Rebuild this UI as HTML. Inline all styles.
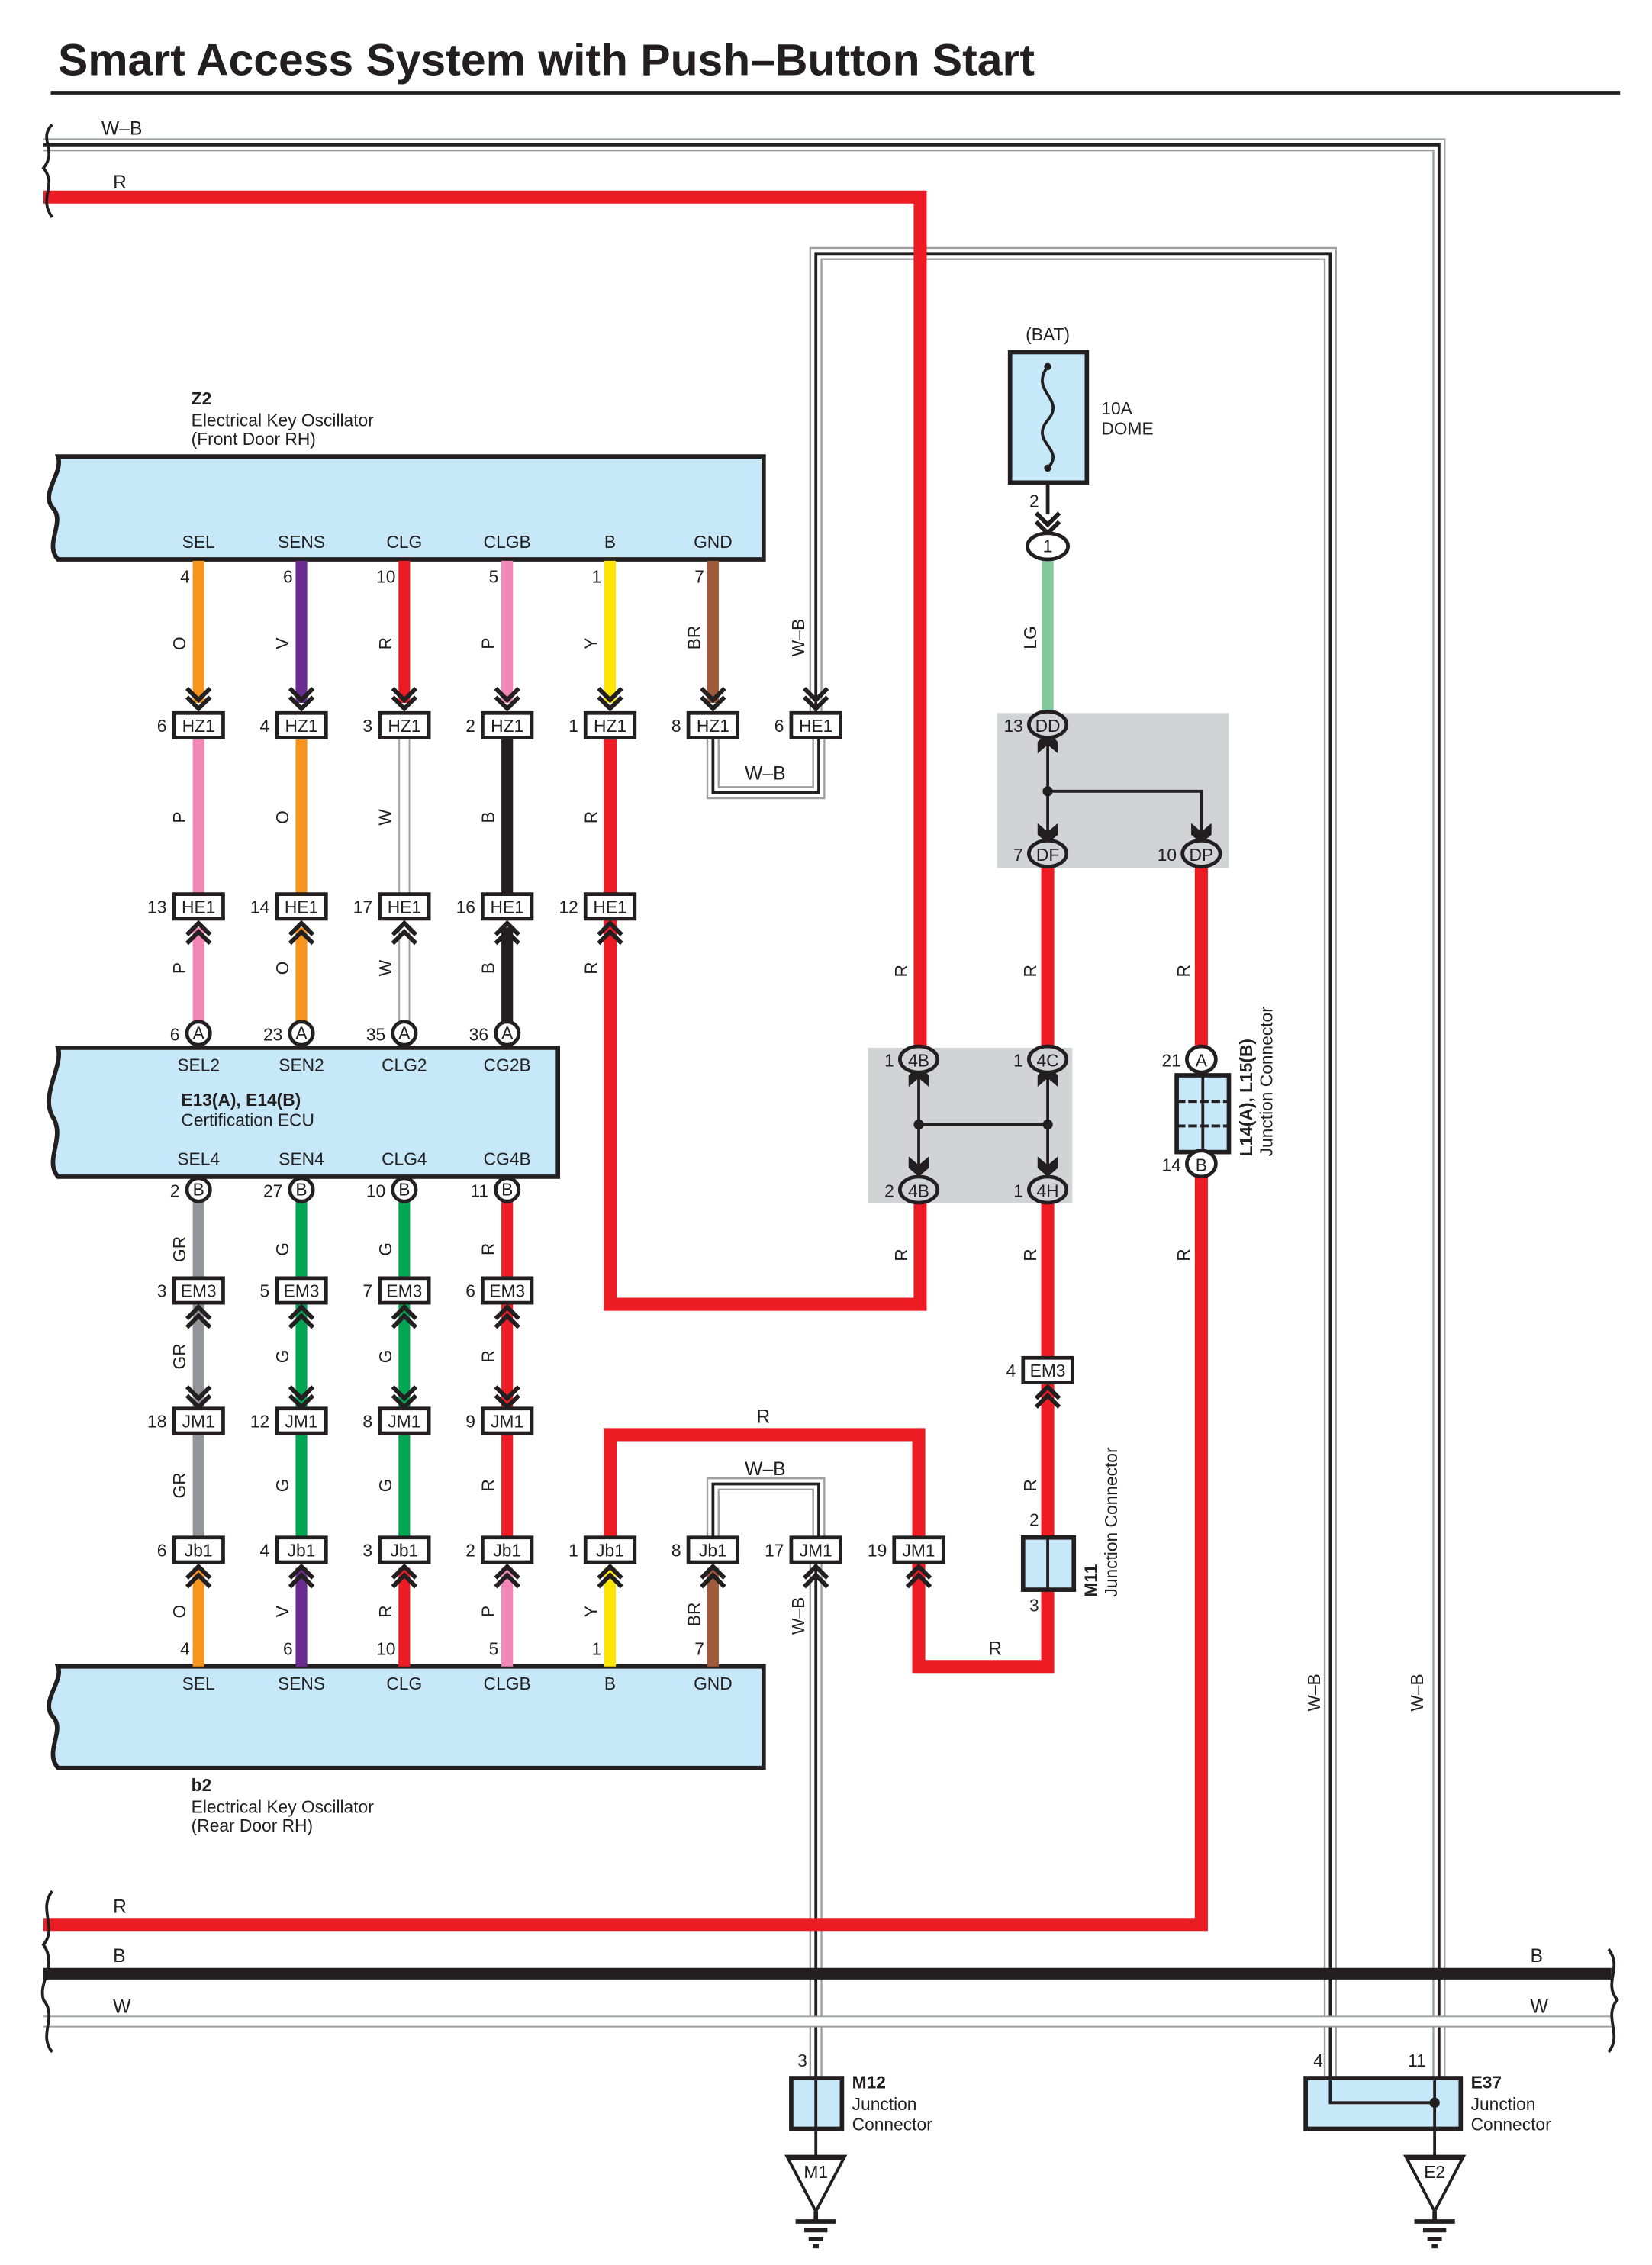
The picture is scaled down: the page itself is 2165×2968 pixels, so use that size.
<!DOCTYPE html>
<html><head><meta charset="utf-8"><style>
html,body{margin:0;padding:0;background:#fff}
svg{display:block}
text{font-family:"Liberation Sans",sans-serif;fill:#231f20}
.t{font-size:13px}
.c{font-size:12px;text-anchor:middle}
.n{font-size:12px;text-anchor:end}
.b{font-weight:bold}
.cb{fill:#fff;stroke:#231f20;stroke-width:2.5}
.ov{fill:#d1d3d4;stroke:#231f20;stroke-width:2.5}
.ch{fill:none;stroke:#231f20;stroke-width:3}
.blue{fill:#c7e8f8;stroke:#231f20;stroke-width:3}
</style></head><body>
<svg width="2165" height="2968" viewBox="0 0 1140 1563" preserveAspectRatio="none" xmlns="http://www.w3.org/2000/svg">
<!-- title -->
<text x="40" y="52" style="font-size:31px;font-weight:bold">Smart Access System with Push–Button Start</text>
<line x1="35" y1="64" x2="1118" y2="64" stroke="#231f20" stroke-width="2.5"/>

<!-- gray boxes -->
<rect x="688" y="492" width="160" height="107" fill="#d1d3d4"/>
<rect x="599" y="723" width="141" height="107" fill="#d1d3d4"/>

<!-- W-B outer loop -->
<g fill="none">
<path d="M30 100 H993 V1433" stroke="#9d9fa2" stroke-width="9"/>
<path d="M30 100 H993 V1433" stroke="#fff" stroke-width="6.5"/>
<path d="M30 100 H993 V1433" stroke="#231f20" stroke-width="2"/>
<path d="M563 492 V175 H918 V1433" stroke="#9d9fa2" stroke-width="9"/>
<path d="M563 492 V175 H918 V1433" stroke="#fff" stroke-width="6.5"/>
<path d="M563 492 V175 H918 V1433" stroke="#231f20" stroke-width="2"/>
<!-- HZ1 8 to HE1 6 loop -->
<path d="M492 509 V547 H565 V509" stroke="#9d9fa2" stroke-width="9"/>
<path d="M492 509 V547 H565 V509" stroke="#fff" stroke-width="6.5"/>
<path d="M492 509 V547 H565 V509" stroke="#231f20" stroke-width="2"/>
<!-- Jb1 8 to JM1 17 loop -->
<path d="M492 1061 V1024 H565 V1061" stroke="#9d9fa2" stroke-width="9"/>
<path d="M492 1061 V1024 H565 V1061" stroke="#fff" stroke-width="6.5"/>
<path d="M492 1061 V1024 H565 V1061" stroke="#231f20" stroke-width="2"/>
<path d="M563 1078 V1433" stroke="#9d9fa2" stroke-width="9"/>
<path d="M563 1078 V1433" stroke="#fff" stroke-width="6.5"/>
<path d="M563 1078 V1433" stroke="#231f20" stroke-width="2"/>
</g>
<text x="70" y="93" class="t">W–B</text>
<text x="514" y="538" class="t">W–B</text>
<text x="514" y="1018" class="t">W–B</text>

<!-- red wires -->
<g fill="none" stroke="#ed1c24" stroke-width="9">
<path d="M30 136 H635 V723"/>
<path d="M635 830 V900 H421 V634"/>
<path d="M421 509 V617"/>
<path d="M723 599 V723"/>
<path d="M723 830 V937"/>
<path d="M723 954 V1061"/>
<path d="M723 1097 V1150 H634 V1078"/>
<path d="M421 1061 V990 H634 V1061"/>
<path d="M829 599 V723"/>
<path d="M829 812 V1328 H30"/>
</g>
<text x="78" y="130" class="t">R</text>
<text x="78" y="1320" class="t">R</text>
<text x="522" y="982" class="t">R</text>
<text x="682" y="1142" class="t">R</text>

<!-- B and W bottom -->
<line x1="30" y1="1362" x2="1112" y2="1362" stroke="#231f20" stroke-width="8"/>
<line x1="30" y1="1395" x2="1112" y2="1395" stroke="#9d9fa2" stroke-width="8"/>
<line x1="30" y1="1395" x2="1112" y2="1395" stroke="#fff" stroke-width="6"/>
<text x="78" y="1354" class="t">B</text>
<text x="78" y="1389" class="t">W</text>
<text x="1056" y="1354" class="t">B</text>
<text x="1056" y="1389" class="t">W</text>

<!-- break marks -->
<g fill="none" stroke="#231f20" stroke-width="2">
<path d="M36 86 C26 96,40 104,30 116 C40 128,26 136,36 150"/>
<path d="M36 1305 C26 1318,40 1330,30 1342 C40 1356,26 1368,30 1380 C40 1392,26 1404,36 1416"/>
<path d="M1110 1345 C1120 1358,1106 1368,1116 1380 C1106 1392,1120 1404,1110 1416"/>
</g>

<!-- Z2 box -->
<path d="M40 315 H527 V386 H40 C30 375,46 360,36 350 C28 340,44 326,40 315 Z" class="blue"/>
<text x="132" y="279" class="t b" style="font-size:12px">Z2</text>
<text x="132" y="294" class="t" style="font-size:12px">Electrical Key Oscillator</text>
<text x="132" y="307" class="t" style="font-size:12px">(Front Door RH)</text>
<g class="c" style="font-size:13px">
<text x="137" y="378" class="c t">SEL</text><text x="208" y="378" class="c t">SENS</text><text x="279" y="378" class="c t">CLG</text><text x="350" y="378" class="c t">CLGB</text><text x="421" y="378" class="c t">B</text><text x="492" y="378" class="c t">GND</text>
</g>

<!-- b2 box -->
<path d="M40 1150 H527 V1220 H40 C30 1208,46 1194,36 1184 C28 1174,44 1160,40 1150 Z" class="blue"/>
<text x="132" y="1236" class="t b" style="font-size:12px">b2</text>
<text x="132" y="1251" class="t" style="font-size:12px">Electrical Key Oscillator</text>
<text x="132" y="1264" class="t" style="font-size:12px">(Rear Door RH)</text>
<text x="137" y="1166" class="c t">SEL</text><text x="208" y="1166" class="c t">SENS</text><text x="279" y="1166" class="c t">CLG</text><text x="350" y="1166" class="c t">CLGB</text><text x="421" y="1166" class="c t">B</text><text x="492" y="1166" class="c t">GND</text>

<!-- E13 box -->
<path d="M40 723 H385 V812 H40 C30 800,46 785,36 770 C28 755,44 735,40 723 Z" class="blue"/>
<text x="137" y="739" class="c t">SEL2</text><text x="208" y="739" class="c t">SEN2</text><text x="279" y="739" class="c t">CLG2</text><text x="350" y="739" class="c t">CG2B</text>
<text x="125" y="763" class="t b" style="font-size:12px">E13(A), E14(B)</text>
<text x="125" y="777" class="t" style="font-size:12px">Certification ECU</text>
<text x="137" y="804" class="c t">SEL4</text><text x="208" y="804" class="c t">SEN4</text><text x="279" y="804" class="c t">CLG4</text><text x="350" y="804" class="c t">CG4B</text>

<!-- column wires -->
<g fill="none" stroke-width="8">
<!-- top -->
<line x1="137" y1="387" x2="137" y2="485" stroke="#f7941d"/>
<line x1="208" y1="387" x2="208" y2="485" stroke="#6b2c91"/>
<line x1="279" y1="387" x2="279" y2="485" stroke="#ed1c24"/>
<line x1="350" y1="387" x2="350" y2="485" stroke="#f287b7"/>
<line x1="421" y1="387" x2="421" y2="485" stroke="#ffe600"/>
<line x1="492" y1="387" x2="492" y2="485" stroke="#9e5a3a"/>
<!-- middle -->
<line x1="137" y1="509" x2="137" y2="617" stroke="#f287b7"/>
<line x1="208" y1="509" x2="208" y2="617" stroke="#f7941d"/>
<line x1="279" y1="509" x2="279" y2="617" stroke="#9d9fa2"/>
<line x1="279" y1="509" x2="279" y2="617" stroke="#fff" stroke-width="6"/>
<line x1="350" y1="509" x2="350" y2="617" stroke="#231f20"/>
<!-- to E13 A -->
<line x1="137" y1="640" x2="137" y2="705" stroke="#f287b7"/>
<line x1="208" y1="640" x2="208" y2="705" stroke="#f7941d"/>
<line x1="279" y1="640" x2="279" y2="705" stroke="#9d9fa2"/>
<line x1="279" y1="640" x2="279" y2="705" stroke="#fff" stroke-width="6"/>
<line x1="350" y1="640" x2="350" y2="705" stroke="#231f20"/>
<!-- lower -->
<line x1="137" y1="829" x2="137" y2="1061" stroke="#939598"/>
<line x1="208" y1="829" x2="208" y2="1061" stroke="#00a651"/>
<line x1="279" y1="829" x2="279" y2="1061" stroke="#00a651"/>
<line x1="350" y1="829" x2="350" y2="1061" stroke="#ed1c24"/>
<!-- bottom -->
<line x1="137" y1="1082" x2="137" y2="1150" stroke="#f7941d"/>
<line x1="208" y1="1082" x2="208" y2="1150" stroke="#6b2c91"/>
<line x1="279" y1="1082" x2="279" y2="1150" stroke="#ed1c24"/>
<line x1="350" y1="1082" x2="350" y2="1150" stroke="#f287b7"/>
<line x1="421" y1="1082" x2="421" y2="1150" stroke="#ffe600"/>
<line x1="492" y1="1082" x2="492" y2="1150" stroke="#9e5a3a"/>
<!-- LG -->
<line x1="723" y1="386" x2="723" y2="492" stroke="#7fc99a"/>
</g>

<!-- wire color labels -->
<g class="t" style="font-size:12px">
<text transform="rotate(-90 128 444)" x="128" y="444" text-anchor="middle">O</text>
<text transform="rotate(-90 199 444)" x="199" y="444" text-anchor="middle">V</text>
<text transform="rotate(-90 270 444)" x="270" y="444" text-anchor="middle">R</text>
<text transform="rotate(-90 341 444)" x="341" y="444" text-anchor="middle">P</text>
<text transform="rotate(-90 412 444)" x="412" y="444" text-anchor="middle">Y</text>
<text transform="rotate(-90 483 440)" x="483" y="440" text-anchor="middle">BR</text>
<text transform="rotate(-90 555 440)" x="555" y="440" text-anchor="middle">W–B</text>
<text transform="rotate(-90 715 440)" x="715" y="440" text-anchor="middle">LG</text>
<text transform="rotate(-90 128 564)" x="128" y="564" text-anchor="middle">P</text>
<text transform="rotate(-90 199 564)" x="199" y="564" text-anchor="middle">O</text>
<text transform="rotate(-90 270 564)" x="270" y="564" text-anchor="middle">W</text>
<text transform="rotate(-90 341 564)" x="341" y="564" text-anchor="middle">B</text>
<text transform="rotate(-90 412 564)" x="412" y="564" text-anchor="middle">R</text>
<text transform="rotate(-90 128 668)" x="128" y="668" text-anchor="middle">P</text>
<text transform="rotate(-90 199 668)" x="199" y="668" text-anchor="middle">O</text>
<text transform="rotate(-90 270 668)" x="270" y="668" text-anchor="middle">W</text>
<text transform="rotate(-90 341 668)" x="341" y="668" text-anchor="middle">B</text>
<text transform="rotate(-90 412 668)" x="412" y="668" text-anchor="middle">R</text>
<text transform="rotate(-90 626 670)" x="626" y="670" text-anchor="middle">R</text>
<text transform="rotate(-90 715 670)" x="715" y="670" text-anchor="middle">R</text>
<text transform="rotate(-90 821 670)" x="821" y="670" text-anchor="middle">R</text>
<text transform="rotate(-90 128 862)" x="128" y="862" text-anchor="middle">GR</text>
<text transform="rotate(-90 199 862)" x="199" y="862" text-anchor="middle">G</text>
<text transform="rotate(-90 270 862)" x="270" y="862" text-anchor="middle">G</text>
<text transform="rotate(-90 341 862)" x="341" y="862" text-anchor="middle">R</text>
<text transform="rotate(-90 626 866)" x="626" y="866" text-anchor="middle">R</text>
<text transform="rotate(-90 715 866)" x="715" y="866" text-anchor="middle">R</text>
<text transform="rotate(-90 821 866)" x="821" y="866" text-anchor="middle">R</text>
<text transform="rotate(-90 128 936)" x="128" y="936" text-anchor="middle">GR</text>
<text transform="rotate(-90 199 936)" x="199" y="936" text-anchor="middle">G</text>
<text transform="rotate(-90 270 936)" x="270" y="936" text-anchor="middle">G</text>
<text transform="rotate(-90 341 936)" x="341" y="936" text-anchor="middle">R</text>
<text transform="rotate(-90 128 1025)" x="128" y="1025" text-anchor="middle">GR</text>
<text transform="rotate(-90 199 1025)" x="199" y="1025" text-anchor="middle">G</text>
<text transform="rotate(-90 270 1025)" x="270" y="1025" text-anchor="middle">G</text>
<text transform="rotate(-90 341 1025)" x="341" y="1025" text-anchor="middle">R</text>
<text transform="rotate(-90 715 1025)" x="715" y="1025" text-anchor="middle">R</text>
<text transform="rotate(-90 128 1112)" x="128" y="1112" text-anchor="middle">O</text>
<text transform="rotate(-90 199 1112)" x="199" y="1112" text-anchor="middle">V</text>
<text transform="rotate(-90 270 1112)" x="270" y="1112" text-anchor="middle">R</text>
<text transform="rotate(-90 341 1112)" x="341" y="1112" text-anchor="middle">P</text>
<text transform="rotate(-90 412 1112)" x="412" y="1112" text-anchor="middle">Y</text>
<text transform="rotate(-90 483 1114)" x="483" y="1114" text-anchor="middle">BR</text>
<text transform="rotate(-90 555 1115)" x="555" y="1115" text-anchor="middle">W–B</text>
<text transform="rotate(-90 911 1168)" x="911" y="1168" text-anchor="middle">W–B</text>
<text transform="rotate(-90 982 1168)" x="982" y="1168" text-anchor="middle">W–B</text>
</g>

<!-- pin numbers near boxes -->
<g class="n">
<text x="131" y="402">4</text><text x="202" y="402">6</text><text x="273" y="402">10</text><text x="344" y="402">5</text><text x="415" y="402">1</text><text x="486" y="402">7</text>
<text x="131" y="1142">4</text><text x="202" y="1142">6</text><text x="273" y="1142">10</text><text x="344" y="1142">5</text><text x="415" y="1142">1</text><text x="486" y="1142">7</text>
</g>

<!-- chevrons -->
<g class="ch">
<!-- down at HZ1 -->
<path d="M129 475 L137 483 L145 475 M129 481 L137 489 L145 481"/>
<path d="M200 475 L208 483 L216 475 M200 481 L208 489 L216 481"/>
<path d="M271 475 L279 483 L287 475 M271 481 L279 489 L287 481"/>
<path d="M342 475 L350 483 L358 475 M342 481 L350 489 L358 481"/>
<path d="M413 475 L421 483 L429 475 M413 481 L421 489 L429 481"/>
<path d="M484 475 L492 483 L500 475 M484 481 L492 489 L500 481"/>
<path d="M555 475 L563 483 L571 475 M555 481 L563 489 L571 481"/>
<!-- up under HE1 -->
<path d="M129 645 L137 637 L145 645 M129 651 L137 643 L145 651"/>
<path d="M200 645 L208 637 L216 645 M200 651 L208 643 L216 651"/>
<path d="M271 645 L279 637 L287 645 M271 651 L279 643 L287 651"/>
<path d="M342 645 L350 637 L358 645 M342 651 L350 643 L358 651"/>
<path d="M413 645 L421 637 L429 645 M413 651 L421 643 L429 651"/>
<!-- up under EM3 -->
<path d="M129 910 L137 902 L145 910 M129 916 L137 908 L145 916"/>
<path d="M200 910 L208 902 L216 910 M200 916 L208 908 L216 916"/>
<path d="M271 910 L279 902 L287 910 M271 916 L279 908 L287 916"/>
<path d="M342 910 L350 902 L358 910 M342 916 L350 908 L358 916"/>
<path d="M715 965 L723 957 L731 965 M715 971 L723 963 L731 971"/>
<!-- down above JM1 -->
<path d="M129 957 L137 965 L145 957 M129 963 L137 971 L145 963"/>
<path d="M200 957 L208 965 L216 957 M200 963 L208 971 L216 963"/>
<path d="M271 957 L279 965 L287 957 M271 963 L279 971 L287 963"/>
<path d="M342 957 L350 965 L358 957 M342 963 L350 971 L358 963"/>
<!-- up under Jb1 / JM1 -->
<path d="M129 1089 L137 1081 L145 1089 M129 1095 L137 1087 L145 1095"/>
<path d="M200 1089 L208 1081 L216 1089 M200 1095 L208 1087 L216 1095"/>
<path d="M271 1089 L279 1081 L287 1089 M271 1095 L279 1087 L287 1095"/>
<path d="M342 1089 L350 1081 L358 1089 M342 1095 L350 1087 L358 1095"/>
<path d="M413 1089 L421 1081 L429 1089 M413 1095 L421 1087 L429 1095"/>
<path d="M484 1089 L492 1081 L500 1089 M484 1095 L492 1087 L500 1095"/>
<path d="M555 1089 L563 1081 L571 1089 M555 1095 L563 1087 L571 1095"/>
<path d="M626 1089 L634 1081 L642 1089 M626 1095 L634 1087 L642 1095"/>
<!-- fuse down -->
<path d="M715 354 L723 362 L731 354 M715 360 L723 368 L731 360"/>
</g>

<!-- connector boxes -->
<g>
<!-- HZ1 row y=492 -->
<rect x="120" y="492" width="34" height="17" class="cb"/><text x="137" y="505" class="c">HZ1</text><text x="115" y="505" class="n">6</text>
<rect x="191" y="492" width="34" height="17" class="cb"/><text x="208" y="505" class="c">HZ1</text><text x="186" y="505" class="n">4</text>
<rect x="262" y="492" width="34" height="17" class="cb"/><text x="279" y="505" class="c">HZ1</text><text x="257" y="505" class="n">3</text>
<rect x="333" y="492" width="34" height="17" class="cb"/><text x="350" y="505" class="c">HZ1</text><text x="328" y="505" class="n">2</text>
<rect x="404" y="492" width="34" height="17" class="cb"/><text x="421" y="505" class="c">HZ1</text><text x="399" y="505" class="n">1</text>
<rect x="475" y="492" width="34" height="17" class="cb"/><text x="492" y="505" class="c">HZ1</text><text x="470" y="505" class="n">8</text>
<rect x="546" y="492" width="34" height="17" class="cb"/><text x="563" y="505" class="c">HE1</text><text x="541" y="505" class="n">6</text>
<!-- HE1 row y=617 -->
<rect x="120" y="617" width="34" height="17" class="cb"/><text x="137" y="630" class="c">HE1</text><text x="115" y="630" class="n">13</text>
<rect x="191" y="617" width="34" height="17" class="cb"/><text x="208" y="630" class="c">HE1</text><text x="186" y="630" class="n">14</text>
<rect x="262" y="617" width="34" height="17" class="cb"/><text x="279" y="630" class="c">HE1</text><text x="257" y="630" class="n">17</text>
<rect x="333" y="617" width="34" height="17" class="cb"/><text x="350" y="630" class="c">HE1</text><text x="328" y="630" class="n">16</text>
<rect x="404" y="617" width="34" height="17" class="cb"/><text x="421" y="630" class="c">HE1</text><text x="399" y="630" class="n">12</text>
<!-- EM3 row y=882 -->
<rect x="120" y="882" width="34" height="17" class="cb"/><text x="137" y="895" class="c">EM3</text><text x="115" y="895" class="n">3</text>
<rect x="191" y="882" width="34" height="17" class="cb"/><text x="208" y="895" class="c">EM3</text><text x="186" y="895" class="n">5</text>
<rect x="262" y="882" width="34" height="17" class="cb"/><text x="279" y="895" class="c">EM3</text><text x="257" y="895" class="n">7</text>
<rect x="333" y="882" width="34" height="17" class="cb"/><text x="350" y="895" class="c">EM3</text><text x="328" y="895" class="n">6</text>
<rect x="706" y="937" width="34" height="17" class="cb"/><text x="723" y="950" class="c">EM3</text><text x="701" y="950" class="n">4</text>
<!-- JM1 row y=972 -->
<rect x="120" y="972" width="34" height="17" class="cb"/><text x="137" y="985" class="c">JM1</text><text x="115" y="985" class="n">18</text>
<rect x="191" y="972" width="34" height="17" class="cb"/><text x="208" y="985" class="c">JM1</text><text x="186" y="985" class="n">12</text>
<rect x="262" y="972" width="34" height="17" class="cb"/><text x="279" y="985" class="c">JM1</text><text x="257" y="985" class="n">8</text>
<rect x="333" y="972" width="34" height="17" class="cb"/><text x="350" y="985" class="c">JM1</text><text x="328" y="985" class="n">9</text>
<!-- Jb1 row y=1061 -->
<rect x="120" y="1061" width="34" height="17" class="cb"/><text x="137" y="1074" class="c">Jb1</text><text x="115" y="1074" class="n">6</text>
<rect x="191" y="1061" width="34" height="17" class="cb"/><text x="208" y="1074" class="c">Jb1</text><text x="186" y="1074" class="n">4</text>
<rect x="262" y="1061" width="34" height="17" class="cb"/><text x="279" y="1074" class="c">Jb1</text><text x="257" y="1074" class="n">3</text>
<rect x="333" y="1061" width="34" height="17" class="cb"/><text x="350" y="1074" class="c">Jb1</text><text x="328" y="1074" class="n">2</text>
<rect x="404" y="1061" width="34" height="17" class="cb"/><text x="421" y="1074" class="c">Jb1</text><text x="399" y="1074" class="n">1</text>
<rect x="475" y="1061" width="34" height="17" class="cb"/><text x="492" y="1074" class="c">Jb1</text><text x="470" y="1074" class="n">8</text>
<rect x="546" y="1061" width="34" height="17" class="cb"/><text x="563" y="1074" class="c">JM1</text><text x="541" y="1074" class="n">17</text>
<rect x="617" y="1061" width="34" height="17" class="cb"/><text x="634" y="1074" class="c">JM1</text><text x="612" y="1074" class="n">19</text>
</g>

<!-- ECU pin circles -->
<g>
<circle cx="137" cy="713" r="8" class="cb"/><text x="137" y="717" class="c">A</text><text x="124" y="718" class="n">6</text>
<circle cx="208" cy="713" r="8" class="cb"/><text x="208" y="717" class="c">A</text><text x="195" y="718" class="n">23</text>
<circle cx="279" cy="713" r="8" class="cb"/><text x="279" y="717" class="c">A</text><text x="266" y="718" class="n">35</text>
<circle cx="350" cy="713" r="8" class="cb"/><text x="350" y="717" class="c">A</text><text x="337" y="718" class="n">36</text>
<circle cx="137" cy="821" r="8" class="cb"/><text x="137" y="825" class="c">B</text><text x="124" y="826" class="n">2</text>
<circle cx="208" cy="821" r="8" class="cb"/><text x="208" y="825" class="c">B</text><text x="195" y="826" class="n">27</text>
<circle cx="279" cy="821" r="8" class="cb"/><text x="279" y="825" class="c">B</text><text x="266" y="826" class="n">10</text>
<circle cx="350" cy="821" r="8" class="cb"/><text x="350" y="825" class="c">B</text><text x="337" y="826" class="n">11</text>
</g>

<!-- fuse -->
<text x="723" y="235" class="c t">(BAT)</text>
<rect x="697" y="243" width="53" height="90" class="blue"/>
<path d="M723 253 C710 270,736 275,723 290 C710 305,736 310,723 323" fill="none" stroke="#231f20" stroke-width="2"/>
<circle cx="723" cy="253" r="2.5" fill="#231f20"/><circle cx="723" cy="323" r="2.5" fill="#231f20"/>
<line x1="723" y1="333" x2="723" y2="355" stroke="#231f20" stroke-width="2.5"/>
<text x="760" y="286" class="t" style="font-size:12px">10A</text>
<text x="760" y="300" class="t" style="font-size:12px">DOME</text>
<text x="717" y="350" class="n">2</text>
<ellipse cx="723" cy="377" rx="14" ry="9" class="cb"/><text x="723" y="381" class="c">1</text>

<!-- gray box 2 internals -->
<g stroke="#231f20" stroke-width="2" fill="none">
<path d="M723 510 V578 M723 546 H829 V578"/>
<path d="M634 740 V810 M723 740 V810 M634 776 H723"/>
</g>
<g fill="#231f20">
<circle cx="723" cy="546" r="3.5"/><circle cx="634" cy="776" r="3.5"/><circle cx="723" cy="776" r="3.5"/>
<path d="M716 512 L723 505 L730 512 L730 520 L723 514 L716 520 Z"/>
<path d="M716 568 L723 574 L730 568 L730 576 L723 582 L716 576 Z"/>
<path d="M822 568 L829 574 L836 568 L836 576 L829 582 L822 576 Z"/>
<path d="M627 742 L634 735 L641 742 L641 750 L634 744 L627 750 Z"/>
<path d="M716 742 L723 735 L730 742 L730 750 L723 744 L716 750 Z"/>
<path d="M627 798 L634 804 L641 798 L641 806 L634 812 L627 806 Z"/>
<path d="M716 798 L723 804 L730 798 L730 806 L723 812 L716 806 Z"/>
</g>
<ellipse cx="723" cy="500" rx="13" ry="9" class="ov"/><text x="723" y="505" class="c">DD</text><text x="706" y="505" class="n">13</text>
<ellipse cx="723" cy="589" rx="13" ry="9" class="ov"/><text x="723" y="594" class="c">DF</text><text x="706" y="594" class="n">7</text>
<ellipse cx="829" cy="589" rx="13" ry="9" class="ov"/><text x="829" y="594" class="c">DP</text><text x="812" y="594" class="n">10</text>
<ellipse cx="634" cy="731" rx="13" ry="9" class="ov"/><text x="634" y="736" class="c">4B</text><text x="617" y="736" class="n">1</text>
<ellipse cx="723" cy="731" rx="13" ry="9" class="ov"/><text x="723" y="736" class="c">4C</text><text x="706" y="736" class="n">1</text>
<ellipse cx="634" cy="821" rx="13" ry="9" class="ov"/><text x="634" y="826" class="c">4B</text><text x="617" y="826" class="n">2</text>
<ellipse cx="723" cy="821" rx="13" ry="9" class="ov"/><text x="723" y="826" class="c">4H</text><text x="706" y="826" class="n">1</text>

<!-- L14 junction -->
<rect x="812" y="742" width="36" height="53" class="blue"/>
<line x1="830" y1="742" x2="830" y2="795" stroke="#231f20" stroke-width="2"/>
<line x1="812" y1="760" x2="848" y2="760" stroke="#231f20" stroke-width="2" stroke-dasharray="6 2"/>
<line x1="812" y1="777" x2="848" y2="777" stroke="#231f20" stroke-width="2" stroke-dasharray="6 2"/>
<ellipse cx="829" cy="731" rx="10" ry="9" class="cb"/><text x="829" y="736" class="c">A</text><text x="815" y="736" class="n">21</text>
<ellipse cx="829" cy="803" rx="10" ry="9" class="cb"/><text x="829" y="808" class="c">B</text><text x="815" y="808" class="n">14</text>
<text transform="rotate(-90 864 798)" x="864" y="798" class="t b" style="font-size:12px">L14(A), L15(B)</text>
<text transform="rotate(-90 878 798)" x="878" y="798" class="t" style="font-size:12px">Junction Connector</text>

<!-- M11 -->
<rect x="706" y="1061" width="35" height="36" class="blue"/>
<line x1="723" y1="1061" x2="723" y2="1097" stroke="#231f20" stroke-width="2"/>
<text x="717" y="1053" class="n">2</text>
<text x="717" y="1112" class="n">3</text>
<text transform="rotate(-90 757 1102)" x="757" y="1102" class="t b" style="font-size:12px">M11</text>
<text transform="rotate(-90 771 1102)" x="771" y="1102" class="t" style="font-size:12px">Junction Connector</text>

<!-- M12 -->
<rect x="546" y="1434" width="35" height="35" class="blue"/>
<line x1="563" y1="1434" x2="563" y2="1488" stroke="#231f20" stroke-width="2"/>
<text x="557" y="1426" class="n">3</text>
<text x="588" y="1441" class="t b" style="font-size:12px">M12</text>
<text x="588" y="1456" class="t" style="font-size:12px">Junction</text>
<text x="588" y="1470" class="t" style="font-size:12px">Connector</text>
<path d="M543 1488 H583 L563 1526 Z" fill="#fff" stroke="#231f20" stroke-width="2"/>
<line x1="543" y1="1489" x2="583" y2="1489" stroke="#231f20" stroke-width="3.5"/>
<text x="563" y="1503" class="c">M1</text>
<g stroke="#231f20" stroke-width="3">
<line x1="563" y1="1526" x2="563" y2="1533"/><line x1="549" y1="1533" x2="577" y2="1533"/><line x1="555" y1="1539" x2="571" y2="1539"/><line x1="558" y1="1545" x2="568" y2="1545"/><line x1="561" y1="1550" x2="565" y2="1550"/>
</g>

<!-- E37 -->
<rect x="901" y="1434" width="107" height="35" class="blue"/>
<path d="M918 1434 V1451 H990" fill="none" stroke="#231f20" stroke-width="2"/>
<line x1="990" y1="1434" x2="990" y2="1488" stroke="#231f20" stroke-width="2"/>
<circle cx="990" cy="1451" r="3.5" fill="#231f20"/>
<text x="913" y="1426" class="n">4</text>
<text x="984" y="1426" class="n">11</text>
<text x="1015" y="1441" class="t b" style="font-size:12px">E37</text>
<text x="1015" y="1456" class="t" style="font-size:12px">Junction</text>
<text x="1015" y="1470" class="t" style="font-size:12px">Connector</text>
<path d="M970 1488 H1010 L990 1526 Z" fill="#fff" stroke="#231f20" stroke-width="2"/>
<line x1="970" y1="1489" x2="1010" y2="1489" stroke="#231f20" stroke-width="3.5"/>
<text x="990" y="1503" class="c">E2</text>
<g stroke="#231f20" stroke-width="3">
<line x1="990" y1="1526" x2="990" y2="1533"/><line x1="976" y1="1533" x2="1004" y2="1533"/><line x1="982" y1="1539" x2="998" y2="1539"/><line x1="985" y1="1545" x2="995" y2="1545"/><line x1="988" y1="1550" x2="992" y2="1550"/>
</g>
</svg>
</body></html>
